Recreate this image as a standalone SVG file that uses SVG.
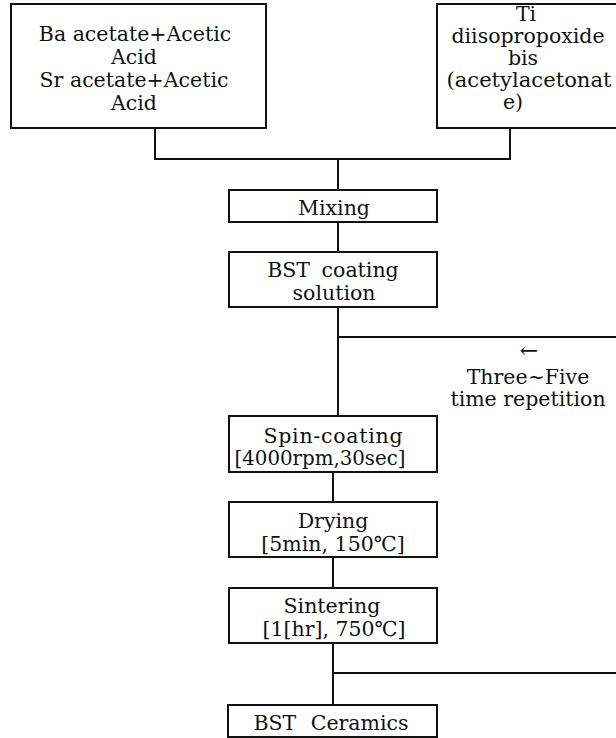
<svg xmlns="http://www.w3.org/2000/svg" width="616" height="738" viewBox="0 0 616 738">
<style>
.box{fill:#fff;stroke:#111;stroke-width:2}
.ln{fill:none;stroke:#111;stroke-width:2}
text{font-family:'DejaVu Serif',serif;font-size:20.5px;fill:#111;text-anchor:middle}
.wide{word-spacing:5px}
</style>
<rect width="616" height="738" fill="#fff"/>
<g id="connectors">
<polyline class="ln" points="155,128 155,159 510,159 510,128"/>
<line class="ln" x1="338" y1="159" x2="338" y2="190"/>
<line class="ln" x1="338" y1="222" x2="338" y2="252"/>
<line class="ln" x1="338" y1="307" x2="338" y2="416"/>
<line class="ln" x1="338" y1="337" x2="616" y2="337"/>
<line class="ln" x1="333" y1="472" x2="333" y2="502"/>
<line class="ln" x1="333" y1="557" x2="333" y2="588"/>
<line class="ln" x1="333" y1="643" x2="333" y2="705"/>
<line class="ln" x1="333" y1="673" x2="616" y2="673"/>
</g>
<g id="ba-sr">
<rect class="box" x="11" y="4" width="255" height="124"/>
<text x="135" y="41">Ba acetate+Acetic</text>
<text x="134" y="64">Acid</text>
<text x="134" y="87">Sr acetate+Acetic</text>
<text x="134" y="110">Acid</text>
</g>
<g id="ti">
<rect class="box" x="437" y="4" width="200" height="124"/>
<text x="526" y="21">Ti</text>
<text x="528" y="43">diisopropoxide</text>
<text x="523" y="65">bis</text>
<text x="529" y="87" textLength="165" lengthAdjust="spacingAndGlyphs">(acetylacetonat</text>
<text x="513" y="109">e)</text>
</g>
<g id="mixing">
<rect class="box" x="229" y="190" width="208" height="32"/>
<text x="334" y="215">Mixing</text>
</g>
<g id="bst-solution">
<rect class="box" x="229" y="252" width="208" height="55"/>
<text class="wide" x="333" y="277">BST coating</text>
<text x="334" y="300">solution</text>
</g>
<g id="repetition">
<text x="529" y="358" style="font-size:22px">←</text>
<text x="528" y="384">Three~Five</text>
<text x="528" y="406">time repetition</text>
</g>
<g id="spin">
<rect class="box" x="229" y="416" width="208" height="56"/>
<text x="333" y="443" textLength="139">Spin-coating</text>
<text x="320" y="465" textLength="171" lengthAdjust="spacingAndGlyphs">[4000rpm,30sec]</text>
</g>
<g id="drying">
<rect class="box" x="229" y="502" width="208" height="55"/>
<text x="333" y="528">Drying</text>
<text x="333" y="551">[5min, 150℃]</text>
</g>
<g id="sintering">
<rect class="box" x="229" y="588" width="208" height="55"/>
<text x="332" y="613">Sintering</text>
<text x="334" y="636">[1[hr], 750℃]</text>
</g>
<g id="bst-ceramics">
<rect class="box" x="228" y="705" width="209" height="32"/>
<text x="331" y="730" style="word-spacing:8px">BST Ceramics</text>
</g>
</svg>
